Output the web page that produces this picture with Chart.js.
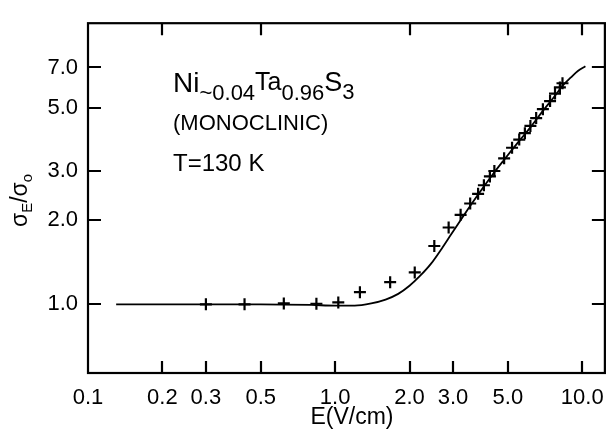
<!DOCTYPE html>
<html>
<head>
<meta charset="utf-8">
<script src="https://cdn.jsdelivr.net/npm/chart.js@4/dist/chart.umd.min.js"></script>
<style>
  html, body { margin: 0; padding: 0; background: #fff; }
  #wrap { width: 616px; height: 429px; }
</style>
</head>
<body>
<div id="wrap"><canvas id="myChart" width="616" height="429"></canvas></div>
<script>
// measured points (E in V/cm, sigma_E/sigma_0)
var diemE = [0.30, 0.43, 0.62, 0.84, 1.03, 1.26, 1.67, 2.10, 2.52, 2.88, 3.22, 3.52, 3.79, 4.00, 4.23, 4.41,
  4.83, 5.20, 5.56, 5.86, 6.17, 6.51, 6.93, 7.41, 7.76, 8.12, 8.32];
var diemSigma = [1.0, 1.0, 1.008, 1.005, 1.016, 1.105, 1.20, 1.30, 1.615, 1.88, 2.087, 2.29, 2.48, 2.66, 2.86, 2.99,
  3.32, 3.62, 3.87, 4.08, 4.33, 4.62, 4.97, 5.31, 5.65, 5.94, 6.15];
// theory curve
var duongE = [0.13, 0.5, 0.8, 1.0, 1.2, 1.4, 1.6, 1.8, 2.0, 2.2, 2.45, 2.7, 2.94, 3.32, 3.76, 4.41, 4.83,
  5.56, 6.17, 6.93, 7.76, 8.32, 9.0, 9.6, 10.3];
var duongSigma = [1.0, 1.0, 0.995, 0.99, 0.99, 1.008, 1.04, 1.09, 1.165, 1.26, 1.40, 1.58, 1.77, 2.08, 2.44, 2.96, 3.28,
  3.83, 4.28, 4.90, 5.55, 6.02, 6.45, 6.80, 7.07];
// tick labels
var tickX = [0.1, 0.2, 0.3, 0.5, 1, 2, 3, 5, 10];
var nhanX = ['0.1', '0.2', '0.3', '0.5', '1.0', '2.0', '3.0', '5.0', '10.0'];
var tickTren = [0.2, 0.5, 2, 5, 10];
var tickY = [1, 2, 3, 5, 7];
var nhanY = ['1.0', '2.0', '3.0', '5.0', '7.0'];

var FONT = '"Liberation Sans", Arial, sans-serif';

function toPoints(xs, ys) {
  return xs.map(function (x, i) { return { x: x, y: ys[i] }; });
}

// khung, vạch chia hướng vào trong, chữ chú thích
var khung = {
  id: 'khung',
  afterDraw: function (chart) {
    var ctx = chart.ctx;
    var a = chart.chartArea;
    var sx = chart.scales.x, sy = chart.scales.y;
    ctx.save();
    ctx.strokeStyle = '#000';
    ctx.lineWidth = 2.2;
    ctx.strokeRect(a.left, a.top, a.right - a.left, a.bottom - a.top);
    ctx.beginPath();
    tickX.forEach(function (v) {
      var px = Math.round(sx.getPixelForValue(v));
      if (px <= a.left + 1) return;
      ctx.moveTo(px, a.bottom); ctx.lineTo(px, a.bottom - 12);
    });
    tickTren.forEach(function (v) {
      var px = Math.round(sx.getPixelForValue(v));
      ctx.moveTo(px, a.top); ctx.lineTo(px, a.top + 12);
    });
    tickY.forEach(function (v) {
      var py = Math.round(sy.getPixelForValue(v));
      ctx.moveTo(a.left, py); ctx.lineTo(a.left + 13, py);
      ctx.moveTo(a.right, py); ctx.lineTo(a.right - 13, py);
    });
    ctx.stroke();

    ctx.fillStyle = '#000';
    ctx.textBaseline = 'alphabetic';
    ctx.textAlign = 'left';
    // Ni~0.04Ta0.96S3
    var x = 173, base = 92;
    function put(t, size, dy) {
      ctx.font = size + 'px ' + FONT;
      ctx.fillText(t, x, base + dy);
      x += ctx.measureText(t).width;
    }
    put('Ni', 28, 0);
    put('~0.04', 22, 8);
    put('Ta', 25, -2);
    put('0.96', 22, 8);
    put('S', 27, -1);
    put('3', 22, 7);

    ctx.font = '22px ' + FONT;
    ctx.fillText('(MONOCLINIC)', 173, 130);
    ctx.font = '24px ' + FONT;
    ctx.fillText('T=130 K', 173, 171);

    // E(V/cm)
    ctx.font = '23px ' + FONT;
    ctx.textAlign = 'center';
    ctx.fillText('E(V/cm)', 352, 424);

    // σE/σo xoay dọc
    ctx.translate(27, 197);
    ctx.rotate(-Math.PI / 2);
    ctx.textAlign = 'left';
    var tx = -30;
    ctx.font = '23px ' + FONT;
    ctx.fillText('σ', tx, 0); tx += ctx.measureText('σ').width;
    ctx.font = '15px ' + FONT;
    ctx.fillText('E', tx, 5); tx += ctx.measureText('E').width;
    ctx.font = '23px ' + FONT;
    ctx.fillText('/σ', tx, 0); tx += ctx.measureText('/σ').width;
    ctx.font = '15px ' + FONT;
    ctx.fillText('o', tx, 5);
    ctx.restore();
  }
};

var bieudo = new Chart('myChart', {
  type: 'scatter',
  data: {
    datasets: [{
      label: 'data',
      data: toPoints(diemE, diemSigma),
      pointStyle: 'cross',
      pointRadius: 6,
      pointBorderWidth: 2.2,
      borderColor: '#000',
      backgroundColor: '#000',
      showLine: false
    }, {
      label: 'theory',
      data: toPoints(duongE, duongSigma),
      showLine: true,
      pointRadius: 0,
      borderWidth: 1.8,
      borderColor: '#000',
      cubicInterpolationMode: 'monotone',
      fill: false
    }]
  },
  options: {
    responsive: false,
    animation: false,
    devicePixelRatio: 1,
    layout: { padding: { top: 11, right: 3, left: 0, bottom: 0 } },
    plugins: { legend: { display: false }, tooltip: { enabled: false } },
    scales: {
      x: {
        type: 'logarithmic',
        min: 0.1,
        max: 12.35,
        afterFit: function (s) { s.height = 56; },
        afterBuildTicks: function (s) { s.ticks = tickX.map(function (v) { return { value: v }; }); },
        grid: { display: false, drawTicks: false },
        border: { display: false },
        ticks: {
          color: '#000',
          padding: 12,
          font: { family: FONT, size: 22 },
          maxRotation: 0,
          autoSkip: false,
          callback: function (v) { var i = tickX.indexOf(v); return i >= 0 ? nhanX[i] : ''; }
        }
      },
      y: {
        type: 'logarithmic',
        min: 0.569,
        max: 10.07,
        afterFit: function (s) { s.width = 88; },
        afterBuildTicks: function (s) { s.ticks = tickY.map(function (v) { return { value: v }; }); },
        grid: { display: false, drawTicks: false },
        border: { display: false },
        ticks: {
          color: '#000',
          padding: 10,
          font: { family: FONT, size: 22 },
          autoSkip: false,
          callback: function (v) { var i = tickY.indexOf(v); return i >= 0 ? nhanY[i] : ''; }
        }
      }
    }
  },
  plugins: [khung]
});
</script>
</body>
</html>
